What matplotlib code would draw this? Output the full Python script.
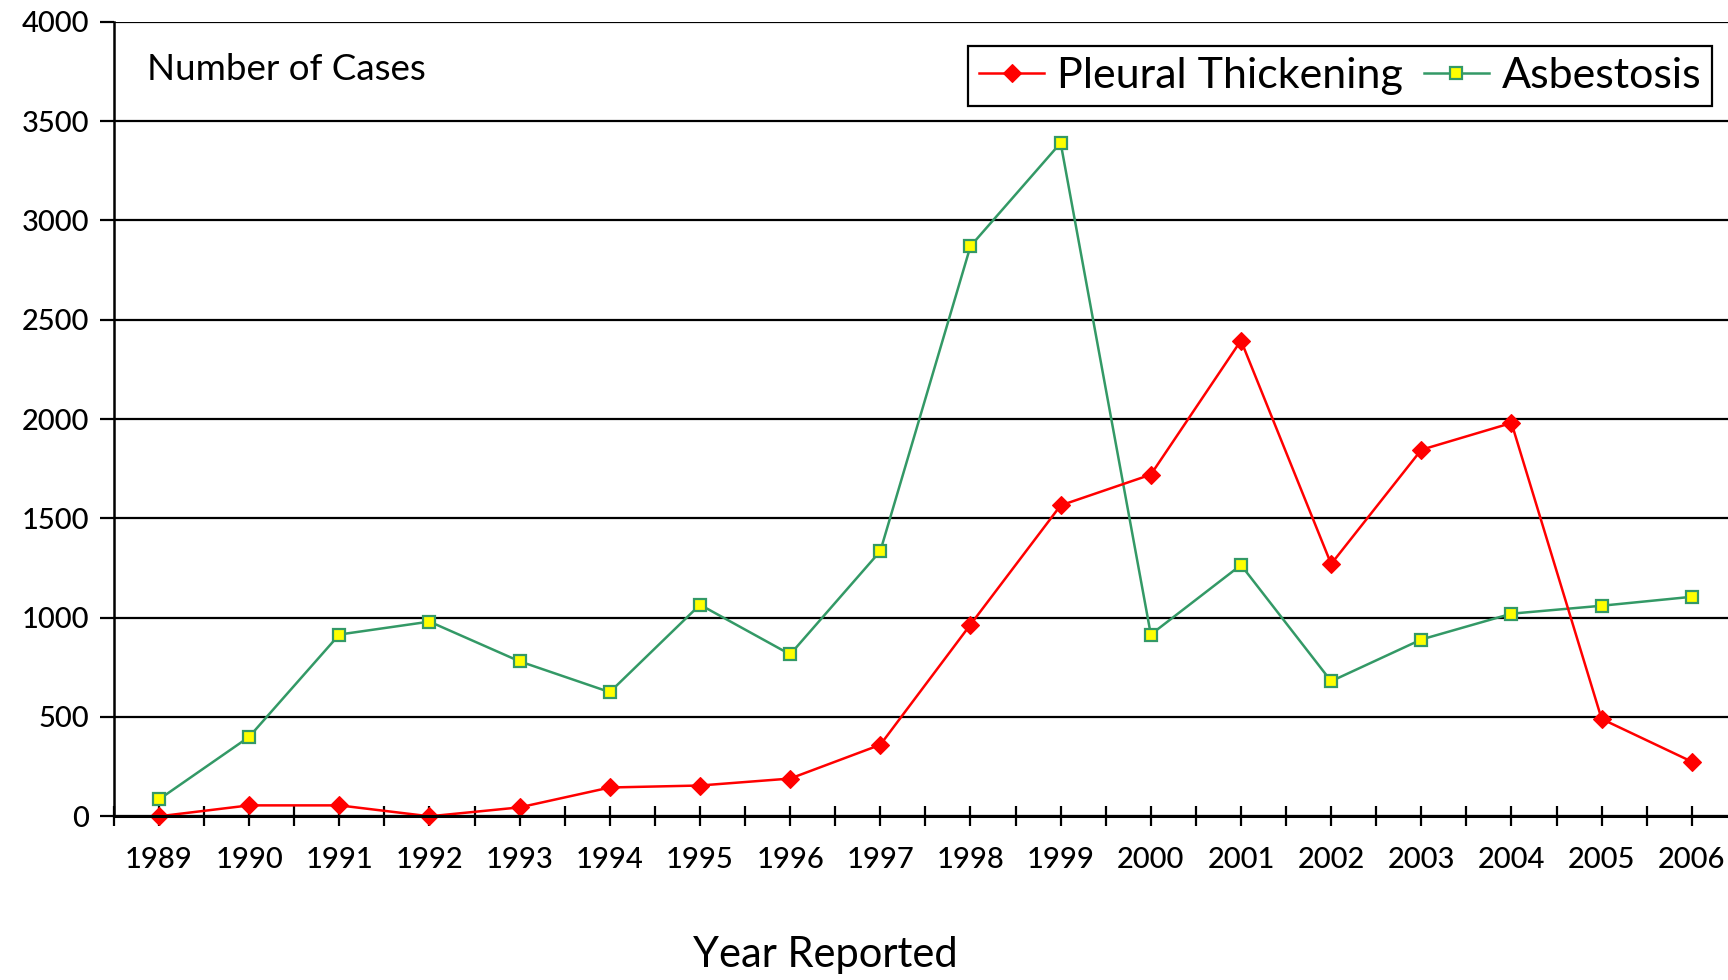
import matplotlib
matplotlib.use("Agg")
import matplotlib.pyplot as plt
import numpy as np

years = ["1989", "1990", "1991", "1992", "1993", "1994", "1995", "1996", "1997",
         "1998", "1999", "2000", "2001", "2002", "2003", "2004", "2005", "2006"]
pleural_thickening = [0, 55, 55, 0, 45, 145, 155, 190, 360, 965, 1565, 1720,
                      2395, 1270, 1845, 1980, 490, 275]
asbestosis = [85, 400, 915, 980, 780, 625, 1065, 815, 1335, 2870, 3390, 915,
              1265, 680, 890, 1020, 1060, 1105]
y_ticks = [0, 500, 1000, 1500, 2000, 2500, 3000, 3500, 4000]

plt.rcParams['font.family'] = ['Lato', 'DejaVu Sans']

fig = plt.figure(figsize=(17.28, 9.8), dpi=100)
ax = fig.add_axes([113.9 / 1728, 1 - 816.3 / 980, 1623.0 / 1728, (816.3 - 21.7) / 980])

x = np.arange(len(years))
ax.plot(x, pleural_thickening, color='#ff0000', lw=1.8, marker='D', ms=9,
        mfc='#ff0000', mec='#ff0000', mew=0.8, label='Pleural Thickening',
        clip_on=False, zorder=4)
ax.plot(x, asbestosis, color='#339966', lw=1.8, marker='s', ms=8.5,
        mfc='#ffff00', mec='#339966', mew=1.6, label='Asbestosis',
        clip_on=False, zorder=3)

ax.set_xlim(-0.5, len(years) - 0.5)
ax.set_ylim(0, 4000)
ax.set_yticks(y_ticks)
ax.set_yticklabels([str(v) for v in y_ticks], fontsize=21, fontweight='medium')
ax.set_xticks(x)
ax.set_xticklabels(years, fontsize=21, fontweight='medium')
ax.set_xticks(np.arange(-0.5, len(years), 1.0), minor=True)

ax.tick_params(axis='x', which='both', direction='inout', length=14, width=1.6,
               pad=15, colors='black')
ax.tick_params(axis='y', which='major', direction='out', length=10, width=1.6,
               pad=8, colors='black')

for s in ['top', 'right']:
    ax.spines[s].set_visible(False)
ax.spines['left'].set_linewidth(1.8)
ax.spines['bottom'].set_linewidth(2.2)
ax.spines['left'].set_zorder(5)
ax.spines['bottom'].set_zorder(5)

ax.yaxis.grid(True, color='black', lw=1.6)
ax.set_axisbelow(True)

leg = ax.legend(loc='upper right', bbox_to_anchor=(1712 / 1728, 1 - 46 / 980),
                bbox_transform=fig.transFigure, ncol=2, fontsize=31,
                frameon=True, fancybox=False, borderaxespad=0,
                handlelength=1.5, handletextpad=0.3, columnspacing=0.5,
                borderpad=0.25, markerscale=1.0)
leg.get_frame().set_edgecolor('black')
leg.get_frame().set_linewidth(1.6)
leg.get_frame().set_alpha(1)

fig.text(147 / 1728, 1 - 80 / 980, "Number of Cases", fontsize=26.5,
         ha='left', va='baseline')
fig.text(825 / 1728, 1 - 967 / 980, "Year Reported", fontsize=30,
         ha='center', va='baseline')

fig.savefig("out.png", dpi=100)
